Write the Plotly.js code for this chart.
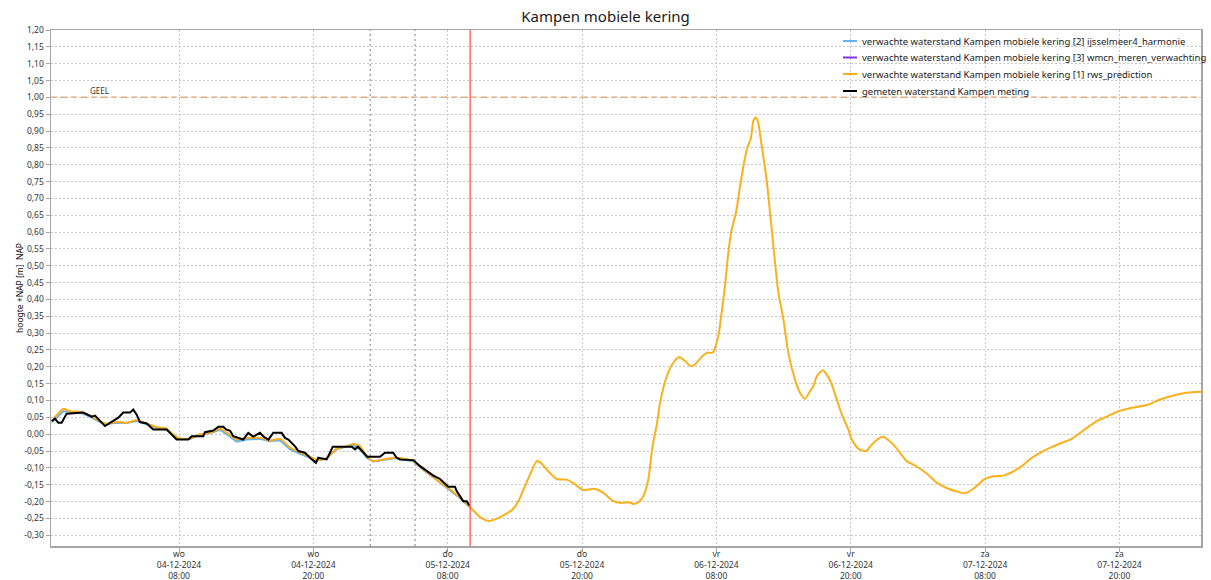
<!DOCTYPE html>
<html>
<head>
<meta charset="utf-8">
<script src="https://cdn.plot.ly/plotly-3.0.1.min.js"></script>
<style>html,body{margin:0;padding:0;background:#fff;overflow:hidden;}#chart{width:1211px;height:580px;}</style>
</head>
<body>
<div id="chart"></div>
<script>
// Time offsets are hours after 2024-12-04 00:00
const orangeHours = [-3.37,-2.33,-1.74,-0.84,0.05,0.94,1.54,2.44,3.33,4.22,5.11,6.01,6.90,7.49,8.09,8.98,9.88,10.77,11.66,12.26,13.15,14.05,15.23,16.13,17.02,17.91,18.81,19.70,20.30,21.19,22.09,22.98,23.57,24.17,24.77,25.35,26.25,27.44,28.93,29.82,31.02,32.21,33.10,33.99,34.89,35.63,36.07,36.97,37.72,38.31,38.90,39.35,39.95,40.24,40.99,41.74,42.63,43.22,44.11,45.01,45.90,46.79,47.54,48.13,48.58,49.02,49.47,49.92,50.22,50.38,50.69,50.96,51.56,52.15,52.69,53.20,53.70,54.09,54.69,55.19,55.67,56.17,56.47,56.77,57.06,57.37,57.75,58.11,58.47,58.76,59.06,59.30,59.51,59.74,60.05,60.49,60.85,61.15,61.53,61.98,62.42,63.02,63.47,63.91,64.36,64.66,64.96,65.50,66.15,66.75,67.19,67.78,68.09,68.67,69.36,70.01,70.85,71.80,73.00,73.74,74.78,75.68,76.71,77.46,78.27,78.95,79.99,80.73,81.63,82.38,83.27,84.16,85.20,86.09,86.99,87.74,88.77,89.97,90.86,91.90,92.94,94.58,95.62,96.81,98.01,99.28];
const orangeValues = [0.039,0.075,0.068,0.066,0.055,0.039,0.031,0.036,0.034,0.041,0.032,0.021,0.016,-0.001,-0.013,-0.013,0.000,0.004,0.016,0.004,-0.016,-0.011,-0.011,-0.019,-0.014,-0.040,-0.055,-0.067,-0.077,-0.071,-0.043,-0.036,-0.029,-0.036,-0.065,-0.080,-0.075,-0.070,-0.080,-0.105,-0.135,-0.164,-0.189,-0.216,-0.246,-0.258,-0.255,-0.241,-0.226,-0.199,-0.154,-0.120,-0.080,-0.083,-0.110,-0.133,-0.135,-0.145,-0.166,-0.162,-0.174,-0.199,-0.204,-0.202,-0.207,-0.202,-0.184,-0.135,-0.055,-0.020,0.030,0.093,0.172,0.212,0.229,0.217,0.202,0.207,0.230,0.242,0.242,0.291,0.361,0.440,0.539,0.608,0.658,0.737,0.806,0.851,0.877,0.930,0.940,0.925,0.855,0.756,0.638,0.539,0.420,0.341,0.242,0.162,0.123,0.105,0.128,0.143,0.172,0.190,0.160,0.103,0.060,0.014,-0.016,-0.043,-0.050,-0.026,-0.008,-0.031,-0.080,-0.093,-0.117,-0.144,-0.162,-0.170,-0.175,-0.162,-0.133,-0.125,-0.123,-0.113,-0.095,-0.070,-0.050,-0.036,-0.024,-0.014,0.011,0.039,0.052,0.068,0.077,0.088,0.103,0.115,0.123,0.126];

const blueHours = [-3.37,-2.33,-0.84,0.05,0.94,1.54,2.44,3.33,4.22,5.11,6.01,6.90,7.49,8.09,8.98,9.88,10.77,11.66,12.26,13.15,14.05,15.23,16.13,17.02,17.91,18.81,19.70,20.30,21.19,22.09,22.98,23.57,24.17,24.77,25.35,26.25,27.44,28.93,29.82,31.02,32.21,33.10,33.99];
const blueValues = [0.035,0.068,0.064,0.052,0.036,0.030,0.034,0.033,0.039,0.030,0.019,0.014,-0.003,-0.014,-0.014,-0.001,0.003,0.013,0.000,-0.022,-0.016,-0.014,-0.021,-0.018,-0.045,-0.058,-0.069,-0.078,-0.072,-0.045,-0.037,-0.032,-0.045,-0.070,-0.081,-0.076,-0.071,-0.081,-0.106,-0.136,-0.166,-0.190,-0.217];

// wmcn series lies under the rws_prediction line in the original (not visible)
const purpleHours = [-3.37,-2.33,-1.74,-0.84,0.05,0.94,1.54,2.44,3.33,4.22,5.11,6.01,6.90,7.49,8.09,8.98,9.88,10.77,11.66,12.26,13.15,14.05,15.23,16.13,17.02,17.91,18.81,19.70,20.30,21.19,22.09,22.98,23.57,24.17,24.77,25.35,26.25,27.44,28.93,29.82,31.02,32.21,33.10,33.99];
const purpleValues = [0.039,0.075,0.068,0.066,0.055,0.039,0.031,0.036,0.034,0.041,0.032,0.021,0.016,-0.001,-0.013,-0.013,0.000,0.004,0.016,0.004,-0.016,-0.011,-0.011,-0.019,-0.014,-0.040,-0.055,-0.067,-0.077,-0.071,-0.043,-0.036,-0.029,-0.036,-0.065,-0.080,-0.075,-0.070,-0.080,-0.105,-0.135,-0.164,-0.189,-0.216];

const blackHours = [-3.37,-3.08,-2.78,-2.48,-2.03,-0.55,0.20,0.50,1.39,1.99,2.58,3.02,3.62,3.92,4.22,4.52,5.11,5.70,6.90,7.79,8.83,9.13,10.17,10.32,11.06,11.51,11.96,12.20,12.56,12.85,13.74,14.19,14.64,15.23,15.53,15.98,16.42,17.17,17.47,17.76,18.07,18.36,18.66,19.25,19.70,20.24,20.44,21.19,21.49,21.73,23.43,23.72,23.99,24.32,24.82,25.95,26.40,27.14,27.44,27.74,28.93,29.53,30.12,30.71,31.31,31.76,32.05,32.65,32.80,33.10,33.39,33.70,33.93];
const blackValues = [0.039,0.046,0.034,0.034,0.061,0.064,0.052,0.055,0.024,0.036,0.049,0.064,0.064,0.073,0.058,0.036,0.032,0.014,0.014,-0.016,-0.016,-0.006,-0.006,0.006,0.011,0.022,0.022,0.014,0.010,-0.006,-0.016,0.004,-0.007,0.004,-0.007,-0.016,0.004,0.004,-0.011,-0.016,-0.026,-0.036,-0.050,-0.055,-0.070,-0.085,-0.070,-0.075,-0.055,-0.037,-0.037,-0.045,-0.037,-0.050,-0.067,-0.067,-0.055,-0.055,-0.070,-0.075,-0.077,-0.095,-0.110,-0.123,-0.133,-0.149,-0.156,-0.156,-0.169,-0.184,-0.199,-0.199,-0.212];

const tickDates = ['2024-12-04 08:00','2024-12-04 20:00','2024-12-05 08:00','2024-12-05 20:00','2024-12-06 08:00','2024-12-06 20:00','2024-12-07 08:00','2024-12-07 20:00'];
const tickDays = ['wo','wo','do','do','vr','vr','za','za'];
const tickDateLabels = ['04-12-2024','04-12-2024','05-12-2024','05-12-2024','06-12-2024','06-12-2024','07-12-2024','07-12-2024'];
const tickTimes = ['08:00','20:00','08:00','20:00','08:00','20:00','08:00','20:00'];

const seriesNames = [
  'verwachte waterstand Kampen mobiele kering [2] ijsselmeer4_harmonie',
  'verwachte waterstand Kampen mobiele kering [3] wmcn_meren_verwachting',
  'verwachte waterstand Kampen mobiele kering [1] rws_prediction',
  'gemeten waterstand Kampen meting'
];
const seriesColors = ['#62b3f2','#7d34e8','#fcb11c','#000000'];
const nowTime = '2024-12-05 10:00';
const runTimes = ['2024-12-05 01:05','2024-12-05 05:05'];
const geelLevel = 1.00;

function toDate(h){
  const d = new Date(Date.UTC(2024,11,4,0,0) + Math.round(h*60)*60000);
  return d.toISOString().slice(0,16).replace('T',' ');
}

const yTickVals = [];
const yTickText = [];
for (let i = -6; i <= 24; i++) {
  const v = i*0.05;
  yTickVals.push(v);
  yTickText.push((v < -1e-9 ? '-' : '') + Math.abs(v).toFixed(2).replace('.', ','));
}

const W = 1211, H = 580, ML = 51, MR = 10, MT = 30, MB = 34;
const PW = W - ML - MR, PH = H - MT - MB;
const px2x = p => (p - ML) / PW;
const px2y = p => (H - MB - p) / PH;

const font = 'Noto Sans, Open Sans, sans-serif';
const traces = [
  {x: blueHours.map(toDate), y: blueValues, name: seriesNames[0], mode:'lines', line:{color:seriesColors[0], width:2}},
  {x: purpleHours.map(toDate), y: purpleValues, name: seriesNames[1], mode:'lines', line:{color:seriesColors[1], width:1.2, shape:'spline', smoothing:0.6}},
  {x: orangeHours.map(toDate), y: orangeValues, name: seriesNames[2], mode:'lines', line:{color:seriesColors[2], width:2, shape:'spline', smoothing:0.6}},
  {x: blackHours.map(toDate), y: blackValues, name: seriesNames[3], mode:'lines', line:{color:seriesColors[3], width:2}}
];

const shapes = [
  {type:'line', xref:'paper', yref:'y', x0:0, x1:1, y0:geelLevel, y1:geelLevel, line:{color:'#f2a062', width:1.5, dash:'6px,4px'}, layer:'below'},
  {type:'line', xref:'x', yref:'paper', x0:runTimes[0], x1:runTimes[0], y0:0, y1:1, line:{color:'#a8a8a8', width:1.5, dash:'2px,3px'}, layer:'below'},
  {type:'line', xref:'x', yref:'paper', x0:runTimes[1], x1:runTimes[1], y0:0, y1:1, line:{color:'#a8a8a8', width:1.5, dash:'2px,3px'}, layer:'below'},
  {type:'line', xref:'x', yref:'paper', x0:nowTime, x1:nowTime, y0:0, y1:1, line:{color:'#ff2020', width:1}}
];

const annotations = [
  {xref:'paper', yref:'y', x:px2x(99), y:geelLevel, text:'GEEL', showarrow:false, xanchor:'center', yanchor:'bottom', yshift:-1, font:{family:font, size:8, color:'#333'}}
];

// compact legend, as in the original
const legendRows = [41, 57.5, 74, 91];
seriesNames.forEach((name, i) => {
  const yy = px2y(legendRows[i]);
  shapes.push({type:'line', xref:'paper', yref:'paper', x0:px2x(843), x1:px2x(857), y0:yy, y1:yy, line:{color:seriesColors[i], width:2}});
  annotations.push({xref:'paper', yref:'paper', x:px2x(860), y:yy, text:name, showarrow:false, xanchor:'left', yanchor:'middle', font:{family:font, size:9.5, color:'#1a1a1a'}});
});

const layout = {
  width:W, height:H,
  margin:{l:ML, r:MR, t:MT, b:MB, autoexpand:false},
  paper_bgcolor:'#ffffff', plot_bgcolor:'#ffffff',
  font:{family:font, size:9, color:'#222'},
  title:{text:'Kampen mobiele kering', x:0.5, xanchor:'center', y:0.971, yanchor:'middle', font:{family:font, size:15, color:'#1a1a1a'}},
  showlegend:false,
  xaxis:{type:'date', range:['2024-12-03 20:34','2024-12-08 03:17'], tickvals:tickDates, ticktext:tickDates.map((d,i)=>tickDays[i]+'<br>'+tickDateLabels[i]+'<br>'+tickTimes[i]),
    showgrid:true, gridcolor:'#c8c8c8', griddash:'2px,2px', gridwidth:1, zeroline:false,
    showline:true, linecolor:'#a6a6a6', linewidth:1.5, mirror:true,
    ticks:'outside', ticklen:4, tickcolor:'#a6a6a6', ticklabelstandoff:-5, tickfont:{family:font, size:8.5, color:'#333'}, automargin:false},
  yaxis:{range:[-0.332, 1.20], tickvals:yTickVals, ticktext:yTickText,
    showgrid:true, gridcolor:'#c8c8c8', griddash:'2px,2px', gridwidth:1, zeroline:false,
    showline:true, linecolor:'#a6a6a6', linewidth:1.5, mirror:true,
    ticks:'outside', ticklen:4, tickcolor:'#a6a6a6', tickfont:{family:font, size:8.5, color:'#333'}, automargin:false,
    title:{text:'hoogte +NAP [m]  NAP', font:{family:font, size:8.5, color:'#111'}}},
  shapes:shapes,
  annotations:annotations
};

Plotly.newPlot('chart', traces, layout, {displayModeBar:false, staticPlot:true});
</script>
</body>
</html>
